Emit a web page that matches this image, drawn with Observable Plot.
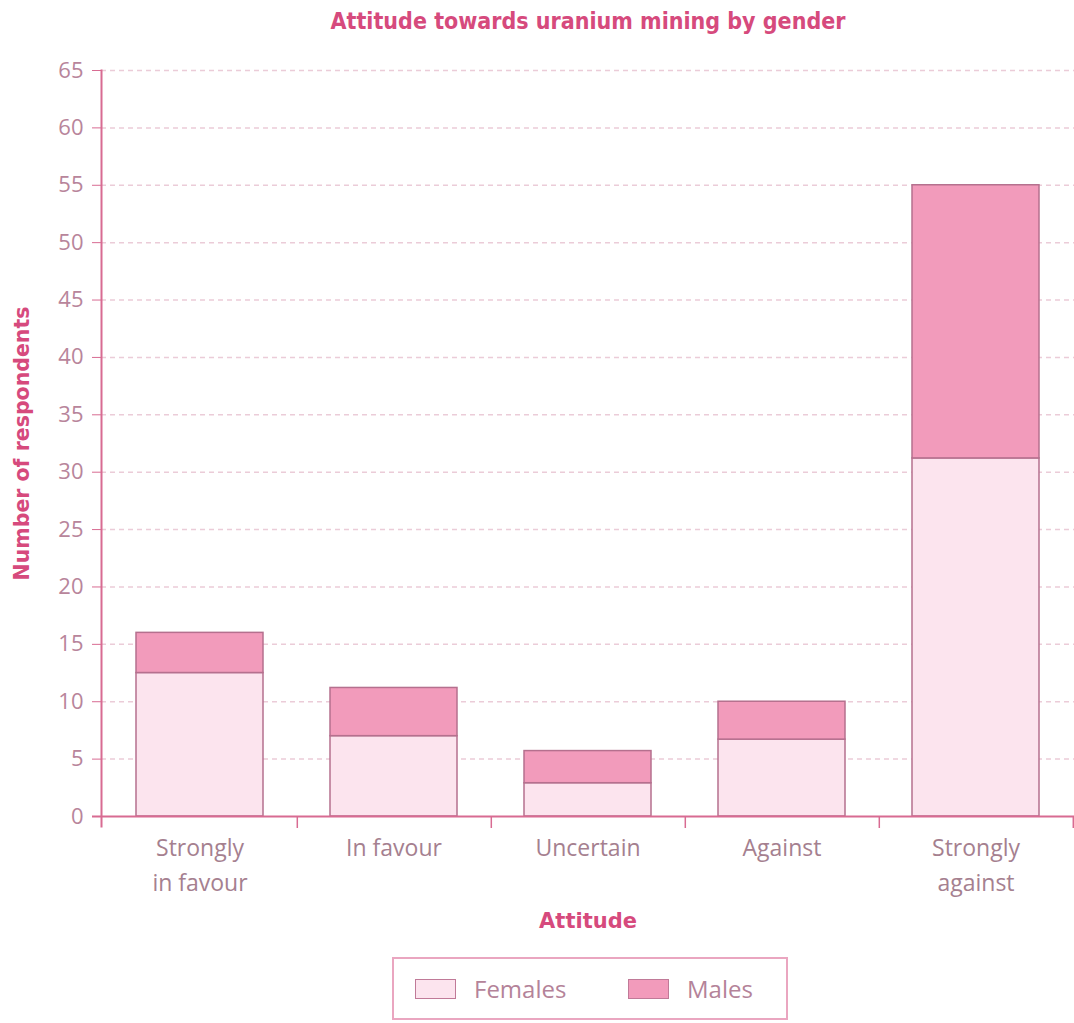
<!DOCTYPE html>
<html><head><meta charset="utf-8">
<script src="https://cdn.jsdelivr.net/npm/d3@7"></script>
<script src="https://cdn.jsdelivr.net/npm/@observablehq/plot@0.6"></script>
<style>
body{margin:0;background:#fff;width:1074px;font-family:"Open Sans",sans-serif;}
#title{height:45px;line-height:42px;text-align:center;font-weight:700;font-size:23px;color:#d64a7d;padding-left:102px;box-sizing:border-box;width:1074px;font-family:"DejaVu Sans Condensed","DejaVu Sans",sans-serif;}
#legend{margin-left:392px;margin-top:12px;width:396px;height:63px;box-sizing:border-box;border:2px solid #eaa6c0;display:flex;align-items:center;padding-left:21px;}
.item{display:flex;align-items:center;}
.sw{width:41px;height:20px;box-sizing:border-box;border:1.5px solid #c07a98;margin-right:18px;}
.lab{font-size:24px;color:#b48399;}
</style></head>
<body>
<div id="title">Attitude towards uranium mining by gender</div>
<div id="chart"></div>
<div id="legend"></div>
<script>
const attitudes = ["Strongly in favour", "In favour", "Uncertain", "Against", "Strongly against"];
const tickLabels = ["Strongly\nin favour", "In favour", "Uncertain", "Against", "Strongly\nagainst"];
const series = ["Females", "Males"];
const females = [12.5, 7, 2.9, 6.7, 31.2];
const males = [3.5, 4.2, 2.8, 3.3, 23.8];
const yTicks = [0, 5, 10, 15, 20, 25, 30, 35, 40, 45, 50, 55, 60, 65];
const colors = ["#fce4ee", "#f29bbb"];

const rows = attitudes.flatMap((a, i) => [
  {attitude: a, gender: series[0], value: females[i]},
  {attitude: a, gender: series[1], value: males[i]}
]);

const W = 1074, H = 900, mL = 101, mR = 0;
const step = (W - mL - mR) / attitudes.length;
const pink = "#d86b92";
const titlePink = "#d64a7d";
const boldFont = "DejaVu Sans, sans-serif";

const chart = Plot.plot({
  width: W, height: H, marginTop: 25, marginBottom: 129, marginLeft: mL, marginRight: mR,
  style: {fontFamily: "Open Sans, sans-serif", background: "transparent", overflow: "visible"},
  x: {domain: attitudes, paddingInner: 0.345, paddingOuter: 0.1725},
  y: {domain: [0, 65]},
  color: {domain: series, range: colors},
  marks: [
    Plot.gridY(yTicks.slice(1), {stroke: "#ebccd8", strokeOpacity: 1, strokeDasharray: "5,4", strokeWidth: 1.5}),
    Plot.barY(rows, {x: "attitude", y: "value", fill: "gender", stroke: "#b5708e", strokeWidth: 1.5, order: series}),
    Plot.axisY({ticks: yTicks, tickSize: 9, tickPadding: 9, fontSize: 22, fill: "#b8859b", stroke: pink, label: null}),
    Plot.axisX({ticks: attitudes, tickSize: 12, stroke: pink, strokeWidth: 1.5, dx: step / 2, fill: "none", label: null}),
    Plot.axisX({tickSize: 0, tickPadding: 14, fontSize: 23, lineHeight: 1.55, tickFormat: d => tickLabels[attitudes.indexOf(d)], fill: "#a5808f", label: null}),
    Plot.ruleY([0], {stroke: pink, strokeWidth: 2, insetLeft: -9}),
    Plot.frame({anchor: "left", stroke: pink, strokeWidth: 2, insetBottom: -10}),
    Plot.text(["Number of respondents"], {frameAnchor: "left", textAnchor: "middle", rotate: -90, dx: -79, fontSize: 20.5, fontWeight: 700, fontFamily: boldFont, fill: titlePink}),
    Plot.text(["Attitude"], {frameAnchor: "bottom", dy: 111, fontSize: 21, fontWeight: 700, fontFamily: boldFont, fill: titlePink})
  ]
});
document.getElementById("chart").append(chart);

const legend = document.getElementById("legend");
series.forEach((s, i) => {
  const item = document.createElement("div");
  item.className = "item";
  if (i === 0) item.style.width = "213px";
  const sw = document.createElement("div");
  sw.className = "sw";
  sw.style.background = colors[i];
  const lab = document.createElement("span");
  lab.className = "lab";
  lab.textContent = s;
  item.append(sw, lab);
  legend.append(item);
});
</script>
</body></html>
